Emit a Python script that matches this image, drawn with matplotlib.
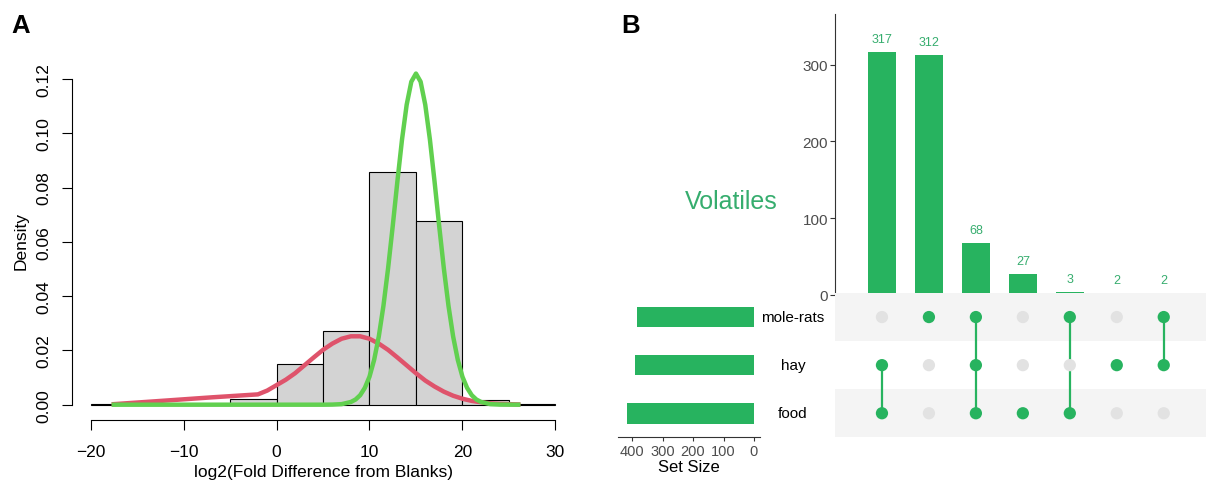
import matplotlib
matplotlib.use("Agg")
import matplotlib.pyplot as plt
import matplotlib.transforms as mtransforms
import numpy as np

plt.rcParams['font.family'] = ['Liberation Sans', 'DejaVu Sans']

# ---- panel A data: histogram of log2 fold difference + two fitted curves ----
bin_edges = [-20, -15, -10, -5, 0, 5, 10, 15, 20, 25, 30]
hist_density = [0.0004, 0.0, 0.0, 0.0021, 0.0151, 0.0273, 0.0856, 0.0677, 0.0017, 0.0004]

red_x = [-17.5, -12, -7, -2, -1, 0, 1, 2, 3, 4, 5, 6, 7, 8, 9, 10, 11, 12, 13,
         14, 15, 16, 17, 18, 19, 20, 21, 22, 23, 24, 25, 26]
red_y = [0.0002, 0.0015, 0.0027, 0.0038, 0.0052, 0.0072, 0.0092, 0.0116, 0.0145,
         0.0174, 0.0202, 0.0225, 0.0243, 0.0252, 0.0252, 0.0243, 0.0225, 0.0202,
         0.0174, 0.0145, 0.0116, 0.0089, 0.0067, 0.0048, 0.0033, 0.0022, 0.0014,
         0.0009, 0.0005, 0.0003, 0.0002, 0.0001]

green_x = [-17.5, 5, 6, 7, 8, 8.5, 9, 9.5, 10, 10.5, 11, 11.5, 12, 12.5, 13, 13.5,
           14, 14.5, 15, 15.5, 16, 16.5, 17, 17.5, 18, 18.5, 19, 19.5, 20, 20.5,
           21, 21.5, 22, 23, 24, 26]
green_y = [0.0, 0.0, 0.00004, 0.0002, 0.0010, 0.0019, 0.0035, 0.0062, 0.0103,
           0.0165, 0.0251, 0.0364, 0.0502, 0.0658, 0.0822, 0.0977, 0.1105, 0.1190,
           0.1220, 0.1190, 0.1105, 0.0977, 0.0822, 0.0658, 0.0502, 0.0364, 0.0251,
           0.0165, 0.0103, 0.0062, 0.0035, 0.0019, 0.0010, 0.0002, 0.00004, 0.0]

# ---- panel B data: upset plot ----
set_names = ["food", "hay", "mole-rats"]          # bottom to top
intersection_sizes = [317, 312, 68, 27, 3, 2, 2]
in_food = [1, 0, 1, 1, 1, 0, 0]
in_hay = [1, 0, 1, 0, 0, 1, 1]
in_molerats = [0, 1, 1, 0, 1, 0, 1]

GREEN = "#27B35F"
TEXT_GREEN = "#36AD6E"
GRAY_TXT = "#4D4D4D"

W, H = 1206, 485


def box(left, top, right, bottom):
    return [left / W, 1 - bottom / H, (right - left) / W, (bottom - top) / H]


fig = plt.figure(figsize=(W / 100, H / 100), dpi=100)

# ================= panel A =================
ax = fig.add_axes(box(72, 61, 574, 420.7))
ax.bar(bin_edges[:-1], hist_density, width=5, align="edge",
       color="#D3D3D3", edgecolor="black", linewidth=0.8)
ax.plot(red_x, red_y, color="#DF536B", lw=3.2)
ax.plot(green_x, green_y, color="#61D04F", lw=3.2)

ax.set_xlim(-22, 32)
ax.set_ylim(-0.00553, 0.127)
for s in ["top", "right"]:
    ax.spines[s].set_visible(False)
ax.spines["left"].set_bounds(0, 0.12)
ax.spines["bottom"].set_bounds(-20, 30)
for s in ["left", "bottom"]:
    ax.spines[s].set_linewidth(0.8)
ax.set_xticks([-20, -10, 0, 10, 20, 30])
yt = [0, 0.02, 0.04, 0.06, 0.08, 0.10, 0.12]
ax.set_yticks(yt)
ax.set_yticklabels(["%.2f" % v for v in yt], rotation=90, va="center")
ax.tick_params(axis="x", length=7, width=0.8, labelsize=12.5, pad=10.5)
ax.tick_params(axis="y", length=7, width=0.8, labelsize=12.5, pad=7.5)
ax.patch.set_alpha(0)

fig.text(21 / W, 1 - 241 / H, "Density", rotation=90, ha="center", va="center", fontsize=12.5)
fig.text(323.4 / W, 1 - 477 / H, "log2(Fold Difference from Blanks)",
         ha="center", va="baseline", fontsize=12.5)

fig.text(20.5 / W, 1 - 32.7 / H, "A", fontsize=18.5, fontweight="bold", ha="center", va="baseline")
fig.text(630.5 / W, 1 - 32.7 / H, "B", fontsize=18.5, fontweight="bold", ha="center", va="baseline")

# ================= panel B =================
membership = [in_food, in_hay, in_molerats]
set_sizes = [sum(v * n for v, n in zip(m, intersection_sizes)) for m in membership]
cols = np.arange(len(intersection_sizes))
rows = np.arange(len(set_names))

# intersection bars
ax_b = fig.add_axes(box(835, 15, 1206, 295.7))
ax_b.bar(cols, intersection_sizes, width=0.6, color=GREEN)
for xi, v in zip(cols, intersection_sizes):
    ax_b.annotate(str(v), (xi, v), xytext=(0, 5), textcoords="offset points",
                  ha="center", va="bottom", fontsize=9, color=TEXT_GREEN)
ax_b.set_xlim(-1.0, 6.9)
ax_b.set_ylim(0, 366)
for s in ["top", "right", "bottom"]:
    ax_b.spines[s].set_visible(False)
ax_b.spines["left"].set_color("#333333")
ax_b.spines["left"].set_linewidth(0.8)
ax_b.set_xticks([])
ax_b.set_yticks([0, 100, 200, 300])
ax_b.tick_params(axis="y", length=3.5, width=0.8, color="#333333",
                 labelsize=11, labelcolor=GRAY_TXT, pad=1.5)
ax_b.patch.set_alpha(0)

# matrix (drawn over the bottom of the bar panel, as in the original)
ax_m = fig.add_axes(box(835, 294, 1206, 438.3))
ax_m.set_zorder(ax_b.get_zorder() + 1)
ax_m.set_xlim(-1.0, 6.9)
ax_m.set_ylim(-0.5, 2.5)
for r in [0, 2]:
    ax_m.axhspan(r - 0.5, r + 0.5, color="#F4F4F4", lw=0)
for r, m in zip(rows, membership):
    colors = [GREEN if v else "#E2E2E2" for v in m]
    ax_m.scatter(cols, [r] * len(cols), s=78, c=colors, lw=0, zorder=3)
for j in cols:
    active = [r for r, m in zip(rows, membership) if m[j]]
    if len(active) > 1:
        ax_m.plot([j, j], [min(active), max(active)], color=GREEN, lw=1.6, zorder=2)
ax_m.axis("off")

# set sizes
ax_s = fig.add_axes(box(618, 294, 760, 438.3))
ax_s.barh(rows, set_sizes, height=0.43, color=GREEN)
ax_s.set_xlim(446, -19.7)
ax_s.set_ylim(-0.5, 2.5)
for s in ["top", "right", "left"]:
    ax_s.spines[s].set_visible(False)
ax_s.spines["bottom"].set_color("#333333")
ax_s.spines["bottom"].set_linewidth(0.8)
ax_s.set_yticks([])
ax_s.set_xticks([0, 100, 200, 300, 400])
ax_s.tick_params(axis="x", length=3, width=0.8, color="#333333",
                 labelsize=10.5, labelcolor=GRAY_TXT, pad=1.5)
ax_s.set_xlabel("Set Size", fontsize=12, labelpad=1)
ax_s.patch.set_alpha(0)

trans = mtransforms.blended_transform_factory(fig.transFigure, ax_m.transData)
for r, name in zip(rows, set_names):
    fig.text(793 / W, r, name, transform=trans, ha="center", va="center", fontsize=11)

fig.text(731.5 / W, 1 - 209.3 / H, "Volatiles", ha="center", va="baseline",
         fontsize=18, color=TEXT_GREEN)

fig.savefig("out.png", dpi=100)
